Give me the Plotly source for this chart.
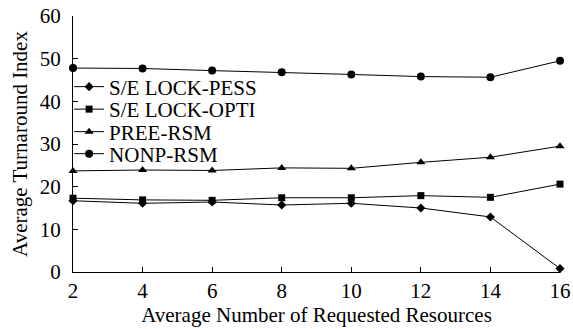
import plotly.graph_objects as go

x_vals = [2, 4, 6, 8, 10, 12, 14, 16]
pess = [16.7, 16.1, 16.4, 15.7, 16.1, 15.0, 12.9, 0.8]
opti = [17.3, 16.9, 16.8, 17.4, 17.4, 17.9, 17.5, 20.6]
pree = [23.7, 23.9, 23.8, 24.4, 24.3, 25.7, 26.9, 29.5]
nonp = [47.8, 47.7, 47.2, 46.8, 46.3, 45.8, 45.65, 49.5]
y_ticks = [0, 10, 20, 30, 40, 50, 60]

series = [
    ("S/E LOCK-PESS", pess, "diamond", 7),
    ("S/E LOCK-OPTI", opti, "square", 7),
    ("PREE-RSM", pree, "triangle-up", 8),
    ("NONP-RSM", nonp, "circle", 8),
]
legend_names = ["legend", "legend2", "legend3", "legend4"]
legend_y = [0.7227, 0.6348, 0.5469, 0.4609]

FONT = "Times New Roman, Liberation Serif, serif"

fig = go.Figure()
for (name, ys, sym, sz), lg in zip(series, legend_names):
    fig.add_trace(go.Scatter(
        x=x_vals, y=ys, name=name, mode="lines+markers",
        line=dict(color="black", width=1),
        marker=dict(symbol=sym, size=sz, color="black"),
        cliponaxis=False, legend=lg,
    ))

legend_layout = {}
for lg, ly in zip(legend_names, legend_y):
    legend_layout[lg] = dict(x=-0.008, y=ly, xanchor="left", yanchor="middle",
                             bgcolor="rgba(0,0,0,0)", borderwidth=0,
                             font=dict(size=21, family=FONT, color="black"),
                             itemwidth=30)

fig.update_layout(
    width=573, height=329,
    margin=dict(l=73, r=13, t=16, b=57),
    paper_bgcolor="white", plot_bgcolor="white",
    font=dict(family=FONT, size=21, color="black"),
    showlegend=True,
    xaxis=dict(range=[2, 16], tickvals=x_vals, showline=True, linecolor="black",
               linewidth=1, ticks="inside", ticklen=5, tickcolor="black",
               showgrid=False, zeroline=False, automargin=False,
               tickfont=dict(size=21, family=FONT, color="black"),
               title=dict(text="Average Number of Requested Resources", standoff=2,
                          font=dict(size=21, family=FONT, color="black"))),
    yaxis=dict(range=[0, 60], tickvals=y_ticks, showline=True,
               linecolor="black", linewidth=1, ticks="inside", ticklen=5,
               tickcolor="black", showgrid=False, zeroline=False, automargin=False,
               tickfont=dict(size=21, family=FONT, color="black"), ticklabelstandoff=7,
               title=dict(text="Average Turnaround Index", standoff=6,
                          font=dict(size=21, family=FONT, color="black"))),
    **legend_layout,
)

fig.write_html("out.html", config={"displayModeBar": False},
               post_script="document.body.style.margin='0';")
